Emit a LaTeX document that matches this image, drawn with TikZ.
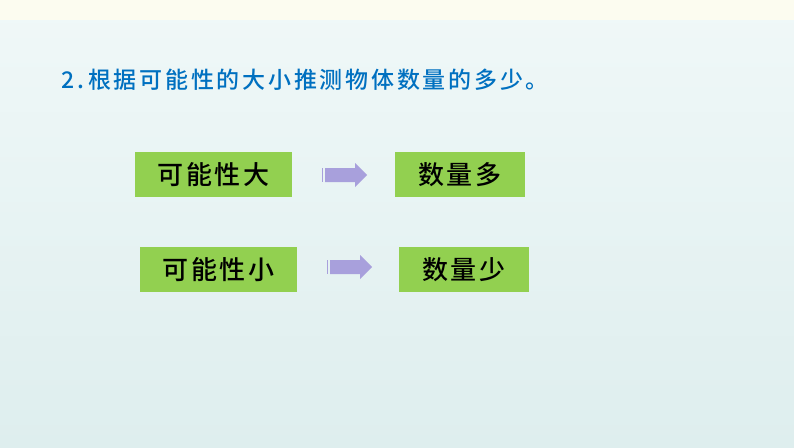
\documentclass[tikz,border=0pt]{standalone}
\usepackage{fontspec}
\newfontfamily\cjk[LetterSpace=12]{Noto Sans CJK SC Medium}
\newfontfamily\cjkb[LetterSpace=10]{Noto Sans CJK SC Medium}
\definecolor{gr}{HTML}{92D050}
\definecolor{bgtop}{RGB}{240,248,248}
\definecolor{bgbot}{RGB}{222,238,238}
\definecolor{strip}{RGB}{252,252,240}
\definecolor{arrc}{RGB}{168,160,220}
\definecolor{titc}{RGB}{0,112,192}
\begin{document}
\begin{tikzpicture}[x=1pt,y=-1pt,
  gbox/.style={minimum height=45pt, inner sep=0pt, font=\cjkb\fontsize{26}{26}\selectfont, text=black},
  arr/.style={fill=arrc, draw=none}]
\shade[top color=bgtop, bottom color=bgbot] (0,0) rectangle (794,447);
\fill[strip] (0,0) rectangle (794,20);
\useasboundingbox (0,0) rectangle (794,447);
\node[anchor=west, text=titc, font=\cjk\fontsize{23}{23}\selectfont] (t) at (58,80) {2.\,根据可能性的大小推测物体数量的多少。};
\node[gbox, fill=gr, minimum width=157pt] (a) at (213.5,174.5) {可能性大};
\node[gbox, fill=gr, minimum width=130pt] (b) at (460,174.5) {数量多};
\node[gbox, fill=gr, minimum width=157pt] (c) at (218.5,269.5) {可能性小};
\node[gbox, fill=gr, minimum width=130pt] (d) at (464,269.5) {数量少};
\fill[arr] (325,168) -- (355,168) -- (355,163) -- (367,175) -- (355,187) -- (355,182) -- (325,182) -- cycle;
\fill[arr] (322,168) rectangle (323,182);
\fill[arr] (330,260) -- (360,260) -- (360,255) -- (372,267) -- (360,279) -- (360,274) -- (330,274) -- cycle;
\fill[arr] (327,260) rectangle (328,274);
\end{tikzpicture}
\end{document}
